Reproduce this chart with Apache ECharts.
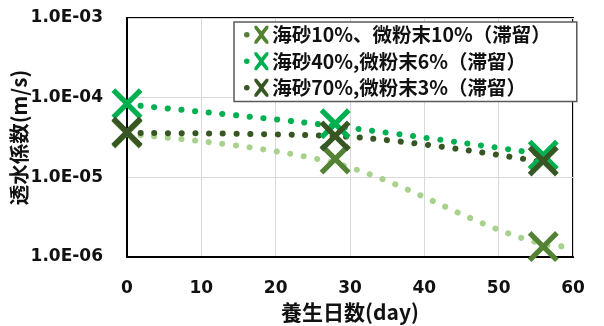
<!DOCTYPE html>
<html>
<head>
<meta charset="utf-8">
<script src="https://cdn.jsdelivr.net/npm/echarts@6/dist/echarts.min.js"></script>
<style>html,body{margin:0;padding:0;background:#fff}#c{width:604px;height:326px}</style>
</head>
<body>
<div id="c"></div>
<script>
// ---- data ----
const seriesNames = ['海砂10%、微粉末10%（滞留）', '海砂40%,微粉末6%（滞留）', '海砂70%,微粉末3%（滞留）'];
const days = [0, 28, 56];
const s1Values = [3.6e-5, 1.7e-5, 1.35e-6];
const s2Values = [8.4e-5, 4.7e-5, 1.9e-5];
const s3Values = [3.7e-5, 3.3e-5, 1.6e-5];
// trend lines (dotted)
const t1Days = [0, 28, 56, 60];
const t1Values = [3.5e-5, 1.5e-5, 1.45e-6, 1.35e-6];
const t2Days = [0, 28, 56];
const t2Values = [8.2e-5, 4.4e-5, 1.95e-5];
const t3Days = [0, 28, 56];
const t3Values = [3.6e-5, 3.3e-5, 1.55e-5];
const xTicks = [0, 10, 20, 30, 40, 50, 60];
const yTickLabels = ['1.0E-06', '1.0E-05', '1.0E-04', '1.0E-03'];

const lineColors = ['#A9D18E', '#00B050', '#375623'];
const markColors = ['#548235', '#00B050', '#375623'];

const XPATH = 'path://M12,0 L50,38 L88,0 L100,12 L62,50 L100,88 L88,100 L50,62 L12,100 L0,88 L38,50 L0,12 Z';
const LEGICON = 'path://M8,50 A14,14 0 1,0 36,50 A14,14 0 1,0 8,50 Z M60,5 L72,5 L95,32 L118,5 L130,5 L130,17 L106,50 L130,83 L130,95 L118,95 L95,68 L72,95 L60,95 L60,83 L84,50 L60,17 Z';

const font = '"DejaVu Sans", "Noto Sans CJK JP", sans-serif';
const cjk = '"Noto Sans CJK JP", "Open Sans", sans-serif';

function pairs(xs, ys) { return xs.map((x, i) => [x, ys[i]]); }
const trends = [pairs(t1Days, t1Values), pairs(t2Days, t2Values), pairs(t3Days, t3Values)];
const points = [pairs(days, s1Values), pairs(days, s2Values), pairs(days, s3Values)];

const series = [];
for (let i = 0; i < 3; i++) {
  series.push({
    name: seriesNames[i] + '_t',
    type: 'line',
    data: trends[i],
    smooth: 0.35,
    symbol: 'none',
    z: 2,
    lineStyle: { color: lineColors[i], width: 6, type: [0.1, 13.6], cap: 'round' },
    silent: true
  });
}
for (let i = 0; i < 3; i++) {
  series.push({
    name: seriesNames[i],
    type: 'scatter',
    data: points[i],
    symbol: XPATH,
    symbolSize: 31,
    z: 3 + i,
    itemStyle: { color: markColors[i], opacity: 1 }
  });
}

const chart = echarts.init(document.getElementById('c'), null, { renderer: 'canvas' });
chart.setOption({
  animation: false,
  backgroundColor: '#fff',
  grid: { left: 127, right: 31, top: 18, bottom: 69, show: true, borderColor: '#000', borderWidth: 2,
    containLabel: false, outerBoundsMode: 'none' },
  legend: {
    data: seriesNames.map((n, i) => ({ name: n, icon: LEGICON, itemStyle: { color: markColors[i] } })),
    orient: 'vertical',
    left: 234, top: 22,
    itemWidth: 26, itemHeight: 18,
    itemGap: 7,
    padding: [3, 26, 4, 10],
    backgroundColor: '#fff',
    borderColor: '#595959',
    borderWidth: 1.5,
    textStyle: { fontFamily: cjk, fontSize: 19.5, fontWeight: 'bold', color: '#111', padding: [0, 0, 0, -2] }
  },
  xAxis: {
    type: 'value', min: 0, max: 60, interval: 10,
    name: '養生日数(day)', nameLocation: 'middle', nameGap: 45, nameMoveOverlap: false,
    nameTextStyle: { fontFamily: cjk, fontSize: 21, fontWeight: 'bold', color: '#111' },
    axisLine: { show: true, lineStyle: { color: '#000', width: 2 } },
    axisTick: { show: false },
    axisLabel: { fontFamily: font, fontSize: 17, fontWeight: 'bold', color: '#111', margin: 23,
      formatter: v => xTicks.includes(v) ? String(v) : '' },
    splitLine: { show: true, lineStyle: { color: '#D9D9D9', width: 1 } }
  },
  yAxis: {
    type: 'log', logBase: 10, min: 1e-6, max: 1e-3,
    name: '透水係数(m/s)', nameLocation: 'middle', nameGap: 98, nameMoveOverlap: false,
    nameTextStyle: { fontFamily: cjk, fontSize: 20.5, fontWeight: 'bold', color: '#111' },
    axisLine: { show: true, lineStyle: { color: '#000', width: 2 } },
    axisTick: { show: false },
    axisLabel: { fontFamily: font, fontSize: 17, fontWeight: 'bold', color: '#111', margin: 24,
      formatter: v => { const e = Math.round(Math.log10(v)); return yTickLabels[e + 6] || ''; } },
    splitLine: { show: true, lineStyle: { color: '#D9D9D9', width: 1 } }
  },
  series: series
});
</script>
</body>
</html>
